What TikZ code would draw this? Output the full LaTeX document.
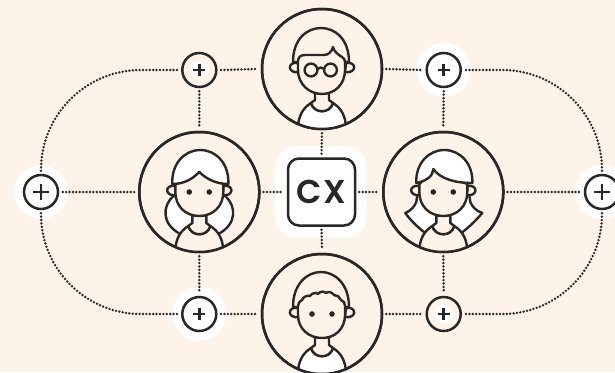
\documentclass[tikz,border=0pt]{standalone}
\usepackage{fontspec}
\setmainfont{Poppins}[BoldFont={Poppins SemiBold},LetterSpace=4]
\definecolor{bgc}{HTML}{FEF3E9}
\definecolor{ink}{HTML}{2A2827}
\tikzset{x=1pt,y=-1pt,
 dotline/.style={ink,line width=2.7pt,line cap=round,dash pattern=on 0pt off 3.4pt},
 ring/.style={circle,draw=ink,line width=2.5pt,minimum size=120pt,inner sep=0pt},
 pluscirc/.style={circle,draw=ink,line width=2.5pt,minimum size=34pt,inner sep=0pt},
 line/.style={draw=ink,line width=2.4pt,line join=round,line cap=round}
}
\newcommand{\plussign}[3]{\draw[ink,line width=2.5pt] (#1-#3,#2)--(#1+#3,#2) (#1,#2-#3)--(#1,#2+#3);}
\newcommand{\faceeyes}{\fill[ink] (-10,0) circle (2.8) (10,0) circle (2.8);}
\newcommand{\ears}{%
 \draw[line,fill=bgc] (-24,-6) .. controls (-35,-8) and (-35,5) .. (-23,3) -- cycle;
 \draw[line,fill=bgc] (24,-6) .. controls (35,-8) and (35,5) .. (23,3) -- cycle;}
\newcommand{\torso}[1]{%
 \fill[#1] (-24,60) .. controls (-24,47) and (-19,39) .. (-11,34) .. controls (-8,45) and (8,45) .. (11,34) .. controls (19,39) and (24,47) .. (24,60) -- cycle;
 \draw[line] (-24,60) .. controls (-24,47) and (-19,39) .. (-11,34) .. controls (-8,45) and (8,45) .. (11,34) .. controls (19,39) and (24,47) .. (24,60);
 \fill[bgc] (-7,22) -- (-7,31) -- (-11,34) .. controls (-8,45) and (8,45) .. (11,34) -- (7,31) -- (7,22) -- cycle;
 \draw[line] (-7,22) -- (-7,31) -- (-11,34) .. controls (-8,45) and (8,45) .. (11,34) -- (7,31) -- (7,22);}
\begin{document}
\begin{tikzpicture}
\useasboundingbox (0,0) rectangle (615,372);
\fill[bgc] (0,0) rectangle (615,372);
% halos
\fill[white] (41,192) circle (27) (602,192) circle (27) (443.7,70) circle (27) (199.3,314) circle (27);
\fill[white] (199.3,70) circle (9.5) (443.7,314) circle (9.5);
\fill[white,rounded corners=22pt] (275,146) rectangle (367,238);
% nodes
\node[pluscirc] (pl) at (41,192) {};
\node[pluscirc] (pr) at (602,192) {};
\node[pluscirc] (ptl) at (199.3,70) {};
\node[pluscirc] (ptr) at (443.7,70) {};
\node[pluscirc] (pbl) at (199.3,314) {};
\node[pluscirc] (pbr) at (443.7,314) {};
\node[ring] (top) at (322,69) {};
\node[ring] (left) at (199.3,192) {};
\node[ring] (right) at (443.3,192) {};
\node[ring] (bot) at (322,314) {};
\node[draw=ink,line width=2.5pt,fill=white,rounded corners=11pt,minimum size=67pt,inner sep=0pt,text=ink,font=\fontsize{33}{33}\selectfont\bfseries] (cx) at (321.5,192) {CX};
% connectors
\draw[dotline] ([xshift=3.5pt]ptl.east) -- ([xshift=-3pt]top.west);
\draw[dotline] ([xshift=3pt]top.east) -- ([xshift=-3.5pt]ptr.west);
\draw[dotline] ([xshift=3.5pt]pbl.east) -- ([xshift=-3pt]bot.west);
\draw[dotline] ([xshift=3pt]bot.east) -- ([xshift=-3.5pt]pbr.west);
\draw[dotline] ([xshift=3.5pt]pl.east) -- ([xshift=-3pt]left.west);
\draw[dotline] ([xshift=3pt]left.east) -- ([xshift=-3pt]cx.west);
\draw[dotline] ([xshift=3pt]cx.east) -- ([xshift=-3pt]right.west);
\draw[dotline] ([xshift=3pt]right.east) -- ([xshift=-3.5pt]pr.west);
\draw[dotline] ([yshift=-3pt]ptl.south) -- ([yshift=3pt]left.north);
\draw[dotline] ([yshift=-3pt]left.south) -- ([yshift=3pt]pbl.north);
\draw[dotline] ([yshift=-3pt]ptr.south) -- ([yshift=3pt]right.north);
\draw[dotline] ([yshift=-3pt]right.south) -- ([yshift=3pt]pbr.north);
\draw[dotline] ([yshift=-3pt]top.south) -- ([yshift=3pt]cx.north);
\draw[dotline] ([yshift=-3pt]cx.south) -- ([yshift=3pt]bot.north);
\draw[dotline] ([yshift=3pt]pl.north) -- (41,170) .. controls (41,114.8) and (85.8,70) .. (141,70) -- ([xshift=-3pt]ptl.west);
\draw[dotline] ([yshift=-3pt]pl.south) -- (41,214) .. controls (41,269.2) and (85.8,314) .. (141,314) -- ([xshift=-3pt]pbl.west);
\draw[dotline] ([yshift=3pt]pr.north) -- (602,170) .. controls (602,114.8) and (557.2,70) .. (502,70) -- ([xshift=3pt]ptr.east);
\draw[dotline] ([yshift=-3pt]pr.south) -- (602,214) .. controls (602,269.2) and (557.2,314) .. (502,314) -- ([xshift=3pt]pbr.east);
% plus signs
\plussign{41}{192}{8}
\plussign{602}{192}{8}
\plussign{199.3}{70}{6}
\plussign{443.7}{70}{6}
\plussign{199.3}{314}{6}
\plussign{443.7}{314}{6}
% Top person
\begin{scope}[shift={(322,69)}]
 \clip (0,0) circle (60);
 \torso{white}
 \ears
 \draw[line,fill=bgc] (-29,-7) .. controls (-29,-30) and (-15,-41) .. (-1,-41) .. controls (13,-41) and (27,-30) .. (27,-7) -- (23,-7) -- (-24,-7) -- cycle;
 \draw[line,fill=bgc] (-24,-8) .. controls (-24,-12) and (-21,-14) .. (-17,-14) -- (2,-14) .. controls (7,-14) and (10,-18) .. (11,-22) .. controls (12,-17) and (17,-14) .. (20,-12) .. controls (22,-11) and (23,-9) .. (23,-7) -- (23,1) .. controls (23,15) and (13,25) .. (0,25) .. controls (-13,25) and (-24,15) .. (-24,1) -- cycle;
 \draw[line] (-11,1) circle (6.4) (8.5,1) circle (6.4);
 \draw[line] (-4.6,0) .. controls (-3,-2) and (0.5,-2) .. (2.1,0);
\end{scope}
% Left person
\begin{scope}[shift={(199.3,192)}]
 \clip (0,0) circle (60);
 \draw[line,fill=white] (-26,4) .. controls (-37,14) and (-38,32) .. (-19,42) -- (19,42) .. controls (38,32) and (37,14) .. (26,4) -- cycle;
 \torso{bgc}
 \ears
 \draw[line,fill=bgc] (-24,-8) -- (-24,0) .. controls (-24,14) and (-14,24) .. (0,24) .. controls (14,24) and (24,14) .. (24,0) -- (24,-8) -- (0,-20) -- cycle;
 \draw[line,fill=white] (-27,-8) .. controls (-28,-28) and (-15,-42) .. (1,-42) .. controls (17,-42) and (30,-28) .. (29,-8) .. controls (17,-8) and (7,-13) .. (0,-20) .. controls (-7,-13) and (-15,-8) .. (-27,-8) -- cycle;
 \faceeyes
\end{scope}
% Right person
\begin{scope}[shift={(443.3,192)}]
 \clip (0,0) circle (60);
 \draw[line,fill=white] (-26,3) -- (-27,10) .. controls (-29,15) and (-33,19) .. (-38,21) .. controls (-33,28) and (-26,35) .. (-18,41) -- (18,41) .. controls (26,35) and (33,28) .. (39,21) .. controls (33,19) and (29,15) .. (27,10) -- (26,3) -- cycle;
 \torso{bgc}
 \ears
 \draw[line,fill=bgc] (-24,-8) -- (-24,0) .. controls (-24,14) and (-14,24) .. (0,24) .. controls (14,24) and (24,14) .. (24,0) -- (24,-8) -- (-10,-22) -- cycle;
 \draw[line,fill=white] (-27,-9) .. controls (-28,-28) and (-15,-42) .. (1,-42) .. controls (17,-42) and (30,-28) .. (29,-9) .. controls (12,-9) and (-3,-13) .. (-10,-23) .. controls (-10,-16) and (-17,-11) .. (-27,-9) -- cycle;
 \faceeyes
\end{scope}
% Bottom person
\begin{scope}[shift={(322,314)}]
 \clip (0,0) circle (60);
 \torso{white}
 \ears
 \draw[line,fill=bgc] (-29,-7) .. controls (-29,-30) and (-15,-42) .. (-1,-42) .. controls (13,-42) and (27,-30) .. (27,-7) -- (-24,-7) -- cycle;
 \draw[line,fill=bgc] (-24,-8) .. controls (-24,-11) and (-22,-13) .. (-20,-14) .. controls (-19,-17) and (-15,-19) .. (-12,-18) .. controls (-10,-21) and (-6,-22) .. (-4,-20) .. controls (-2,-23) and (2,-23) .. (4,-21) .. controls (6,-23) and (10,-22) .. (12,-19) .. controls (15,-19) and (18,-17) .. (19,-14) .. controls (22,-13) and (23,-11) .. (23,-8) -- (23,1) .. controls (23,15) and (13,24) .. (0,24) .. controls (-13,24) and (-24,15) .. (-24,1) -- cycle;
 \faceeyes
\end{scope}
% rings on top
\foreach \n in {top,left,right,bot} \draw[ink,line width=2.5pt] (\n) circle (60);
\end{tikzpicture}
\end{document}
